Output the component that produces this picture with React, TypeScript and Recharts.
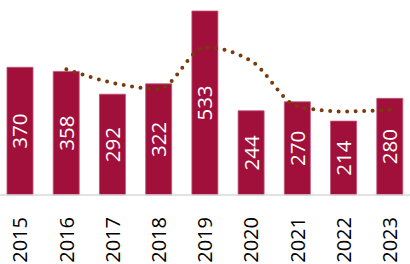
import React from "react";
import { ComposedChart, Bar, Line, XAxis, YAxis, LabelList } from "recharts";

const years = ["2015", "2016", "2017", "2018", "2019", "2020", "2021", "2022", "2023"];
const counts = [370, 358, 292, 322, 533, 244, 270, 214, 280];
const movingAvg: (number | null)[] = [null, 364, 325, 307, 427.5, 388.5, 257, 242, 247];

const data = years.map((y, i) => ({ year: y, count: counts[i], avg: movingAvg[i] }));

const FONT = "'Open Sans', sans-serif";

const XTick = (props: any) => {
  const { x, y, payload } = props;
  return (
    <text
      x={0}
      y={0}
      transform={`translate(${x},${y + 14}) rotate(-90)`}
      textAnchor="end"
      dy="0.36em"
      fill="#000"
      fontSize={20}
      fontFamily={FONT}
    >
      {payload.value}
    </text>
  );
};

const ValueLabel = (props: any) => {
  const { x, y, width, height, value } = props;
  const cx = x + width / 2;
  const cy = y + height / 2;
  return (
    <text
      x={0}
      y={0}
      transform={`translate(${cx},${cy}) rotate(-90)`}
      textAnchor="middle"
      dy="0.36em"
      fill="#fff"
      fontSize={20.5}
      fontFamily={FONT}
    >
      {value}
    </text>
  );
};

export default function App() {
  return (
    <div style={{ position: "absolute", left: -3, top: 0, width: 416, height: 264 }}>
      <ComposedChart
        width={416}
        height={264}
        data={data}
        margin={{ top: 11, right: 0, bottom: 0, left: 0 }}
      >
        <XAxis
          dataKey="year"
          height={69}
          tickLine={false}
          axisLine={{ stroke: "#d9d9d9", strokeWidth: 1.5 }}
          tick={<XTick />}
          interval={0}
        />
        <YAxis hide domain={[0, 533]} />
        <Bar
          dataKey="count"
          fill="#A0103A"
          stroke="#C45276"
          strokeWidth={0.8}
          barSize={26}
          isAnimationActive={false}
        >
          <LabelList dataKey="count" content={<ValueLabel />} />
        </Bar>
        <Line
          dataKey="avg"
          type="monotone"
          stroke="#7A3A0C"
          strokeWidth={4}
          strokeDasharray="0 8.5"
          strokeLinecap="round"
          dot={false}
          connectNulls={false}
          isAnimationActive={false}
        />
      </ComposedChart>
    </div>
  );
}
